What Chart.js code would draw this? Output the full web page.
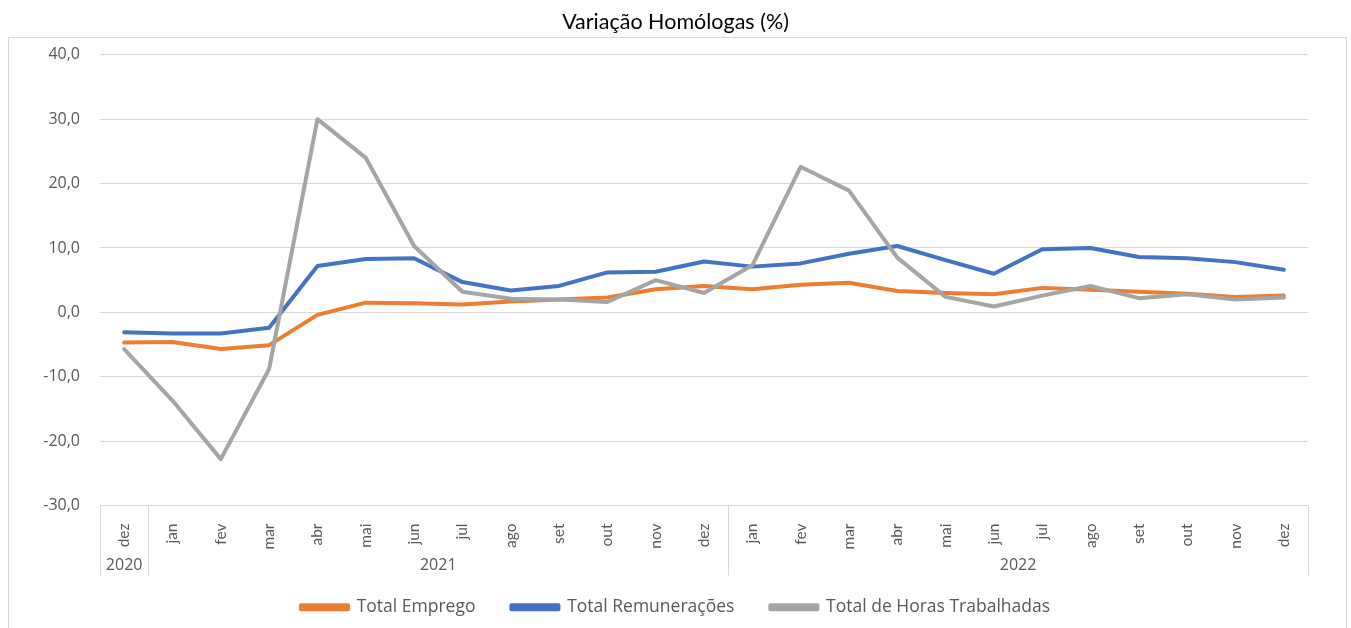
<!DOCTYPE html>
<html>
<head>
<meta charset="utf-8">
<script src="https://cdn.jsdelivr.net/npm/chart.js@4"></script>
<style>
  body { margin: 0; background: #fff; }
  #wrap { width: 1351px; height: 628px; position: relative; }
</style>
</head>
<body>
<div id="wrap"><canvas id="chart"></canvas></div>
<script>
// meses e anos
var months = ['dez', 'jan', 'fev', 'mar', 'abr', 'mai', 'jun', 'jul', 'ago', 'set', 'out', 'nov', 'dez',
  'jan', 'fev', 'mar', 'abr', 'mai', 'jun', 'jul', 'ago', 'set', 'out', 'nov', 'dez'];
var yearLabels = ['2020', '2021', '2022'];
var yearCounts = [1, 12, 12];

// variação homóloga (%)
var emprego = [-4.7, -4.6, -5.7, -5.1, -0.4, 1.5, 1.4, 1.2, 1.7, 2.0, 2.3, 3.6, 4.1,
  3.6, 4.3, 4.6, 3.3, 3.0, 2.8, 3.8, 3.5, 3.2, 2.9, 2.4, 2.6];
var remuneracoes = [-3.1, -3.3, -3.3, -2.4, 7.2, 8.3, 8.4, 4.7, 3.4, 4.1, 6.2, 6.3, 7.9,
  7.1, 7.6, 9.1, 10.3, 8.1, 6.0, 9.8, 10.0, 8.6, 8.4, 7.8, 6.6];
var horas = [-5.7, -13.7, -22.8, -8.8, 30.0, 24.0, 10.3, 3.2, 2.1, 2.0, 1.6, 5.0, 3.0,
  7.3, 22.6, 18.9, 8.5, 2.4, 0.9, 2.6, 4.1, 2.2, 2.8, 2.0, 2.3];

var yTicks = { min: -30, max: 40, step: 10 };

var frame = {
  id: 'frame',
  beforeDraw: function(chart) {
    var c = chart.ctx;
    c.save();
    c.fillStyle = '#fff';
    c.fillRect(0, 0, chart.width, chart.height);
    c.strokeStyle = '#d9d9d9';
    c.lineWidth = 1;
    c.strokeRect(8.5, 37.5, chart.width - 13, chart.height);
    c.restore();
  }
};

// eixo com dois níveis (meses / anos)
var yearAxis = {
  id: 'yearAxis',
  afterDraw: function(chart) {
    var x = chart.scales.x;
    var c = chart.ctx;
    var half = (x.getPixelForTick(1) - x.getPixelForTick(0)) / 2;
    var top = x.top;
    c.save();
    c.strokeStyle = '#d9d9d9';
    c.lineWidth = 1;
    c.fillStyle = '#595959';
    c.font = '16px "Open Sans"';
    c.textAlign = 'center';
    c.textBaseline = 'middle';
    var start = 0;
    var edge = Math.round(x.getPixelForTick(0) - half) + 0.5;
    c.beginPath();
    c.moveTo(edge, top);
    c.lineTo(edge, top + 70);
    c.stroke();
    for (var i = 0; i < yearLabels.length; i++) {
      var end = start + yearCounts[i] - 1;
      var left = x.getPixelForTick(start) - half;
      var right = x.getPixelForTick(end) + half;
      var r = Math.round(right) + 0.5;
      c.beginPath();
      c.moveTo(r, top);
      c.lineTo(r, top + 70);
      c.stroke();
      c.fillText(yearLabels[i], (left + right) / 2, top + 60);
      start = end + 1;
    }
    c.restore();
  }
};

var ctx = document.getElementById('chart').getContext('2d');
var chart = new Chart(ctx, {
  type: 'line',
  data: {
    labels: months,
    datasets: [
      { label: 'Total Emprego', data: emprego, borderColor: '#ED7D31', backgroundColor: '#ED7D31', order: 3 },
      { label: 'Total Remunerações', data: remuneracoes, borderColor: '#4472C4', backgroundColor: '#4472C4', order: 2 },
      { label: 'Total de Horas Trabalhadas', data: horas, borderColor: '#A5A5A5', backgroundColor: '#A5A5A5', order: 1 }
    ]
  },
  options: {
    responsive: true,
    maintainAspectRatio: false,
    animation: false,
    elements: {
      line: { borderWidth: 4, tension: 0, borderJoinStyle: 'round', borderCapStyle: 'round' },
      point: { radius: 0, hoverRadius: 0 }
    },
    layout: { padding: { left: 0, right: 0, top: 0, bottom: 2 } },
    plugins: {
      title: {
        display: true,
        text: 'Variação Homólogas (%)',
        color: '#000',
        font: { family: 'Lato', size: 21.5, weight: 'normal' },
        padding: { top: 9, bottom: 20 }
      },
      legend: {
        position: 'bottom',
        labels: {
          color: '#595959',
          font: { family: 'Open Sans', size: 17.5 },
          boxWidth: 47,
          boxHeight: 4,
          padding: 36,
          sort: function(a, b) { return a.datasetIndex - b.datasetIndex; }
        }
      },
      tooltip: { enabled: false }
    },
    scales: {
      x: {
        offset: true,
        grid: { display: false },
        border: { display: true, color: '#d9d9d9' },
        ticks: {
          color: '#595959',
          font: { family: 'Lato', size: 15.5 },
          minRotation: 90,
          maxRotation: 90,
          padding: 10,
          autoSkip: false
        },
        afterFit: function(scale) { scale.height = 57; }
      },
      y: {
        min: yTicks.min,
        max: yTicks.max,
        grid: { color: '#d9d9d9', drawTicks: false },
        border: { display: false },
        ticks: {
          stepSize: yTicks.step,
          padding: 20,
          color: '#595959',
          font: { family: 'Open Sans', size: 16 },
          callback: function(v) { return v.toFixed(1).replace('.', ','); }
        },
        afterFit: function(scale) { scale.width = 100; }
      },
      y2: {
        position: 'right',
        grid: { display: false, drawTicks: false },
        border: { display: false },
        ticks: { display: false },
        afterFit: function(scale) { scale.width = 43; }
      }
    }
  },
  plugins: [frame, yearAxis]
});
</script>
</body>
</html>
